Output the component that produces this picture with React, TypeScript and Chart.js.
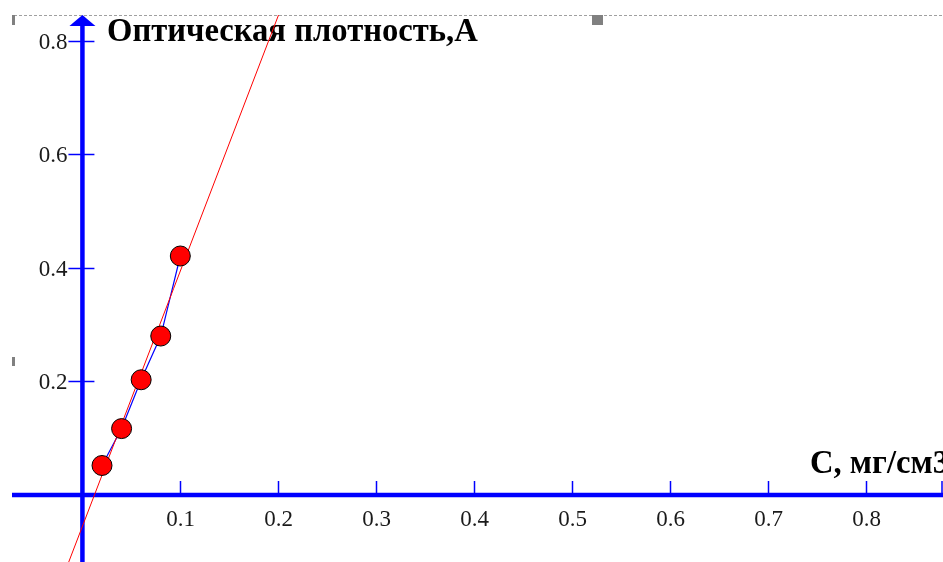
import React, { useEffect, useRef } from "react";
import { Chart, registerables } from "chart.js";

Chart.register(...registerables);

// Data
const concentrations = [0.02, 0.04, 0.06, 0.08, 0.1];
const absorbances = [0.052, 0.117, 0.203, 0.28, 0.421];
// red calibration line endpoints (linear fit)
const fitX = [-0.02, 0.21];
const fitY = [-0.145, 0.889];
const xTickValues = [0.1, 0.2, 0.3, 0.4, 0.5, 0.6, 0.7, 0.8];
const yTickValues = [0.2, 0.4, 0.6, 0.8];
const yTitle = "Оптическая плотность,А";
const xTitle = "С, мг/см3";

const BLUE = "#0000ff";

const axesPlugin = {
  id: "customAxes",
  beforeDatasetsDraw(chart: any) {
    const ctx = chart.ctx as CanvasRenderingContext2D;
    const xs = chart.scales.x;
    const ys = chart.scales.y;
    const x0 = xs.getPixelForValue(0);
    const y0 = ys.getPixelForValue(0);
    const W = chart.width;
    const H = chart.height;
    ctx.save();
    // dotted top border
    ctx.strokeStyle = "#a0a0a0";
    ctx.lineWidth = 1;
    ctx.setLineDash([3, 2]);
    ctx.beginPath();
    ctx.moveTo(14, 15.5);
    ctx.lineTo(W, 15.5);
    ctx.stroke();
    ctx.setLineDash([]);
    // selection handles
    ctx.fillStyle = "#808080";
    ctx.fillRect(12, 15, 3, 10);
    ctx.fillRect(592, 15, 11, 10);
    ctx.fillRect(12, 357, 3, 9);

    // axes
    ctx.strokeStyle = BLUE;
    ctx.lineWidth = 4.5;
    ctx.beginPath();
    ctx.moveTo(12, y0);
    ctx.lineTo(W, y0);
    ctx.stroke();
    ctx.beginPath();
    ctx.moveTo(x0, 24);
    ctx.lineTo(x0, H);
    ctx.stroke();
    // arrow head
    ctx.fillStyle = BLUE;
    ctx.beginPath();
    ctx.moveTo(x0, 15);
    ctx.lineTo(x0 - 13, 26);
    ctx.lineTo(x0 + 13, 26);
    ctx.closePath();
    ctx.fill();

    // ticks
    ctx.lineWidth = 1.5;
    ctx.font = "23px 'Liberation Serif', 'Times New Roman', serif";
    ctx.fillStyle = "#1a1a1a";
    ctx.textAlign = "center";
    ctx.textBaseline = "middle";
    for (const v of xTickValues) {
      const px = Math.round(xs.getPixelForValue(v)) + 0.5;
      ctx.beginPath();
      ctx.moveTo(px, y0 - 14);
      ctx.lineTo(px, y0 + 1);
      ctx.stroke();
      ctx.fillText(v.toFixed(1), px, y0 + 25);
    }
    ctx.beginPath();
    ctx.moveTo(W - 1, y0 - 14);
    ctx.lineTo(W - 1, y0 + 1);
    ctx.stroke();
    ctx.textAlign = "right";
    for (const v of yTickValues) {
      const py = Math.round(ys.getPixelForValue(v)) + 0.5;
      ctx.beginPath();
      ctx.moveTo(x0 - 14, py);
      ctx.lineTo(x0 + 12, py);
      ctx.stroke();
      ctx.fillText(v.toFixed(1), x0 - 15, py + 1);
    }

    // titles
    ctx.fillStyle = "#000";
    ctx.textAlign = "left";
    ctx.textBaseline = "alphabetic";
    const base = 30;
    ctx.font = `bold ${base}px 'Liberation Serif', 'Times New Roman', serif`;
    const w = ctx.measureText(yTitle).width;
    const size = (base * 371) / w;
    ctx.font = `bold ${size.toFixed(2)}px 'Liberation Serif', 'Times New Roman', serif`;
    ctx.fillText(yTitle, 107, 41);
    ctx.fillText(xTitle, 810, 473);
    ctx.restore();
  },
};

export default function App() {
  const ref = useRef<HTMLCanvasElement | null>(null);
  useEffect(() => {
    if (!ref.current) return;
    const chart = new Chart(ref.current, {
      type: "scatter",
      data: {
        datasets: [
          {
            label: "points",
            data: concentrations.map((c, i) => ({ x: c, y: absorbances[i] })),
            showLine: false,
            pointRadius: 10,
            pointBackgroundColor: "#ff0000",
            pointBorderColor: "#000000",
            pointBorderWidth: 1,
          },
          {
            label: "fit",
            data: fitX.map((c, i) => ({ x: c, y: fitY[i] })),
            showLine: true,
            borderColor: "#ff0000",
            borderWidth: 1,
            pointRadius: 0,
          },
          {
            label: "link",
            data: concentrations.map((c, i) => ({ x: c, y: absorbances[i] })),
            showLine: true,
            borderColor: BLUE,
            borderWidth: 1.2,
            pointRadius: 0,
          },
        ],
      },
      options: {
        responsive: false,
        animation: false,
        devicePixelRatio: 1,
        layout: { autoPadding: false, padding: { top: 15, left: 0, right: 0, bottom: 0 } },
        plugins: { legend: { display: false }, tooltip: { enabled: false } },
        scales: {
          x: { type: "linear", min: -0.0842, max: 0.8791, display: false },
          y: { type: "linear", min: -0.118, max: 0.8455, display: false },
        },
      },
      plugins: [axesPlugin],
    });
    return () => chart.destroy();
  }, []);
  return (
    <div style={{ position: "absolute", left: 0, top: 0, width: 943, height: 562, background: "#fff" }}>
      <canvas ref={ref} width={943} height={562} style={{ display: "block" }} />
    </div>
  );
}
